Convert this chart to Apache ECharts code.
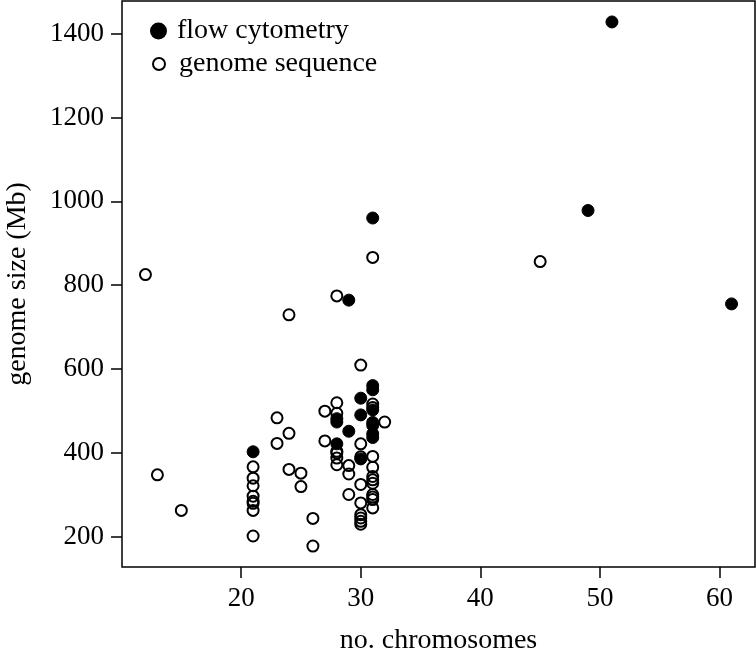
<!DOCTYPE html>
<html>
<head>
<meta charset="utf-8">
<script src="https://cdn.jsdelivr.net/npm/echarts@6/dist/echarts.min.js"></script>
<style>
  html, body { margin: 0; padding: 0; background: #fff; }
  #chart { width: 756px; height: 655px; }
</style>
</head>
<body>
<div id="chart"></div>
<script>
// [no. chromosomes, genome size (Mb)]
var flowCytometry = [
  [51, 1428], [49, 978], [61, 755], [31, 960], [29, 764], [21, 402],
  [28, 481], [28, 473], [28, 421], [29, 451], [30, 530], [30, 490], [30, 385],
  [31, 560], [31, 550], [31, 502], [31, 472], [31, 465], [31, 445], [31, 436]
]
var genomeSequence = [
  [12, 825], [13, 347], [15, 262],
  [21, 366], [21, 339], [21, 321], [21, 296], [21, 284], [21, 279], [21, 262], [21, 201],
  [23, 483], [23, 422],
  [24, 729], [24, 446], [24, 360],
  [25, 351], [25, 319],
  [26, 243], [26, 177],
  [27, 499], [27, 428],
  [28, 774], [28, 519], [28, 494], [28, 403], [28, 399], [28, 387], [28, 371],
  [29, 369], [29, 349], [29, 300],
  [30, 609], [30, 421], [30, 390], [30, 324], [30, 280], [30, 252], [30, 244], [30, 236], [30, 229],
  [31, 866], [31, 516], [31, 508], [31, 391], [31, 365], [31, 343], [31, 335], [31, 327],
  [31, 300], [31, 294], [31, 288], [31, 268],
  [32, 473],
  [45, 856]
]
var seriesNames = ['flow cytometry', 'genome sequence']
var xTicks = [20, 30, 40, 50, 60]
var yTicks = [200, 400, 600, 800, 1000, 1200, 1400]

var font = 'Liberation Serif'
var chart = echarts.init(document.getElementById('chart'))

var legendText = { fontFamily: font, fontSize: 28, color: '#000', padding: [0, 0, 0, 6] }

var option = {
  animation: false,
  textStyle: { fontFamily: font, color: '#000' },
  grid: {
    left: 122, top: 1, right: 1, bottom: 88,
    outerBoundsMode: 'none',
    containLabel: false,
    show: true, borderColor: '#000', borderWidth: 1.5, backgroundColor: '#fff'
  },
  legend: [
    {
      left: 145, top: 12,
      itemWidth: 15, itemHeight: 15,
      textStyle: legendText,
      data: [{ name: seriesNames[0], icon: 'circle' }]
    },
    {
      left: 147, top: 45,
      itemWidth: 12, itemHeight: 12,
      textStyle: Object.assign({}, legendText, { padding: [0, 0, 0, 9] }),
      data: [{ name: seriesNames[1], icon: 'circle' }]
    }
  ],
  xAxis: {
    type: 'value',
    min: 10.04, max: 62.96,
    name: 'no. chromosomes',
    nameLocation: 'middle',
    nameGap: 60,
    nameTextStyle: { fontFamily: font, fontSize: 28, color: '#000' },
    splitLine: { show: false },
    axisLine: { show: false },
    axisTick: { show: true, length: 11, inside: false, lineStyle: { color: '#000', width: 1.5 },
      customValues: xTicks },
    axisLabel: { fontFamily: font, fontSize: 27, color: '#000', margin: 18,
      customValues: xTicks }
  },
  yAxis: {
    type: 'value',
    min: 127, max: 1478,
    name: 'genome size (Mb)',
    nameLocation: 'middle',
    nameGap: 90,
    nameTextStyle: { fontFamily: font, fontSize: 28, color: '#000' },
    splitLine: { show: false },
    axisLine: { show: false },
    axisTick: { show: true, length: 11, inside: false, lineStyle: { color: '#000', width: 1.5 },
      customValues: yTicks },
    axisLabel: { fontFamily: font, fontSize: 27, color: '#000', margin: 18,
      customValues: yTicks,
      formatter: function (v) { return String(v) } }
  },
  series: [
    {
      name: seriesNames[0],
      type: 'scatter',
      data: flowCytometry,
      symbol: 'circle',
      symbolSize: 12,
      itemStyle: { color: '#000', borderColor: '#000', borderWidth: 1, opacity: 1 }
    },
    {
      name: seriesNames[1],
      type: 'scatter',
      data: genomeSequence,
      symbol: 'circle',
      symbolSize: 11,
      itemStyle: { color: 'rgba(255,255,255,0)', borderColor: '#000', borderWidth: 2, opacity: 1 }
    }
  ]
}
chart.setOption(option)
</script>
</body>
</html>
